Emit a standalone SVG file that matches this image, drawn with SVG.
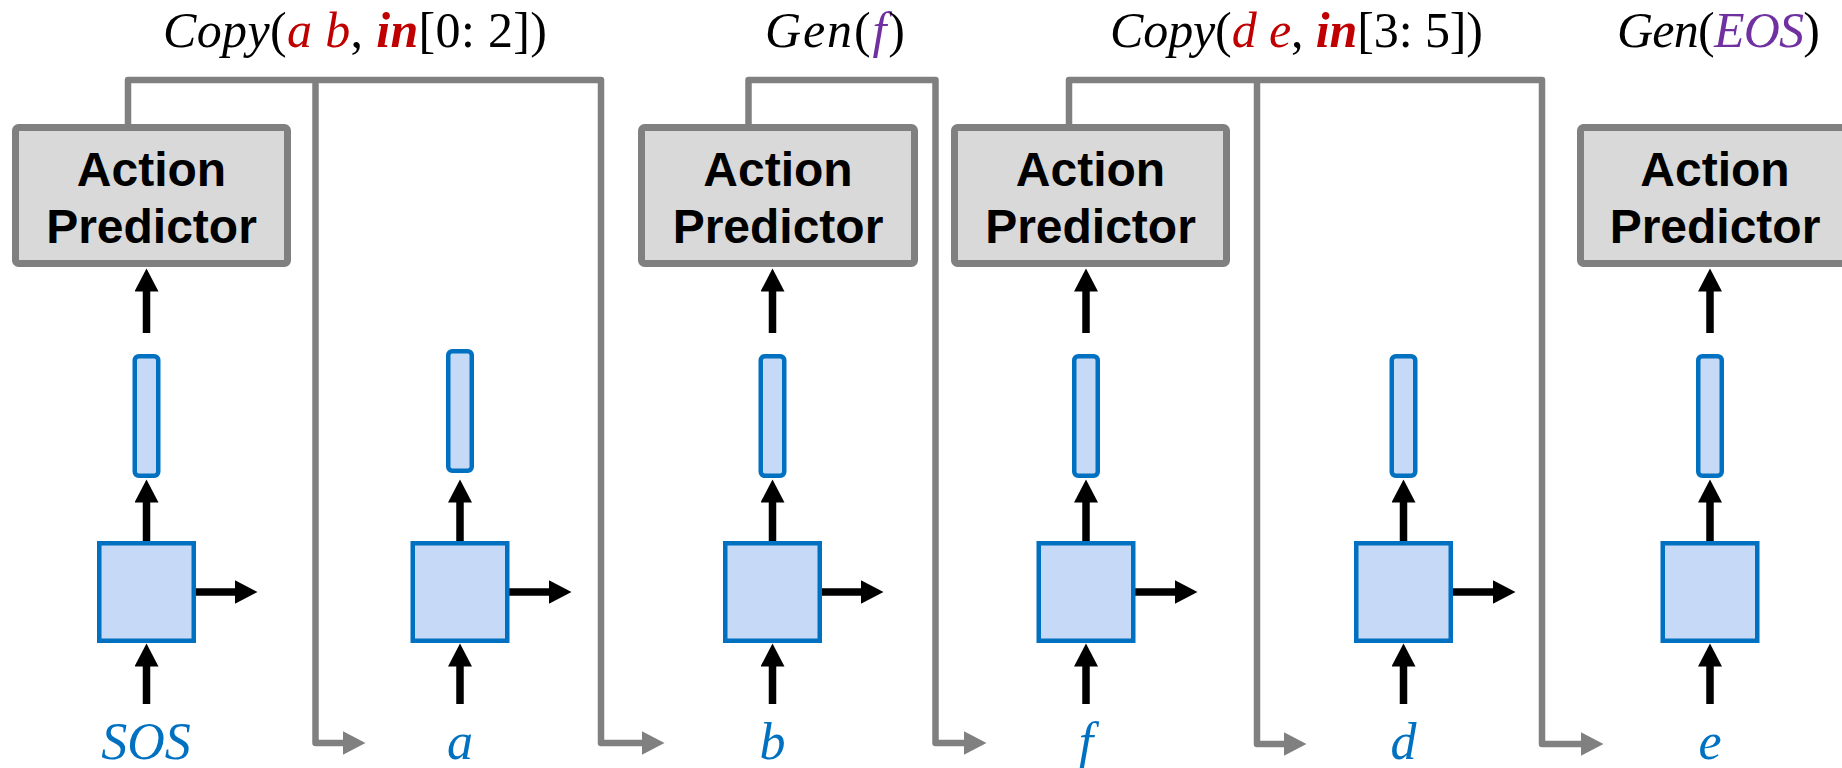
<svg xmlns="http://www.w3.org/2000/svg" width="1842" height="768" viewBox="0 0 1842 768">
<style>
.ap{fill:#d9d9d9;stroke:#808080;stroke-width:7}
.apt{font-family:"Liberation Sans",Arial,sans-serif;font-weight:bold;font-size:48px;fill:#000;text-anchor:middle}
.cell{fill:#c6d9f7;stroke:#0070c0;stroke-width:4.5}
.vec{fill:#c6d9f7;stroke:#0070c0;stroke-width:4.5}
.gl{fill:none;stroke:#808080;stroke-width:6.5;stroke-linejoin:round}
.bl{fill:none;stroke:#000;stroke-width:7.5}
.math{font-family:"Liberation Serif","Times New Roman",serif;font-size:50px;fill:#000}
.it{font-style:italic}
.red{fill:#c00000}
.pur{fill:#7030a0}
.bi{font-style:italic;font-weight:bold}
.tok{font-family:"Liberation Serif","Times New Roman",serif;font-size:52px;font-style:italic;fill:#0070c0;text-anchor:middle}
</style>
<defs>
<marker id="ga" markerUnits="userSpaceOnUse" markerWidth="24" markerHeight="24" viewBox="0 0 24 24" refX="0.5" refY="12" orient="auto">
<path d="M0,0 L23,12 L0,24 z" fill="#808080"/>
</marker>
<marker id="ba" markerUnits="userSpaceOnUse" markerWidth="24" markerHeight="24" viewBox="0 0 24 24" refX="0.5" refY="12" orient="auto">
<path d="M0,0 L23,12 L0,24 z" fill="#000"/>
</marker>
</defs>

<g id="connectors">
<path class="gl" d="M128,127 V80 H601 V743 H642" marker-end="url(#ga)"/>
<path class="gl" d="M315.5,80 V743 H343" marker-end="url(#ga)"/>
<path class="gl" d="M748.5,127 V80 H935.5 V743 H964" marker-end="url(#ga)"/>
<path class="gl" d="M1069,127 V80 H1542 V744 H1581" marker-end="url(#ga)"/>
<path class="gl" d="M1257,80 V744 H1284" marker-end="url(#ga)"/>

<path class="bl" d="M146.5,704 V666" marker-end="url(#ba)"/>
<path class="bl" d="M146.5,541 V502" marker-end="url(#ba)"/>
<path class="bl" d="M196,592 H235" marker-end="url(#ba)"/>
<path class="bl" d="M146.5,333 V291" marker-end="url(#ba)"/>

<path class="bl" d="M460,704 V666" marker-end="url(#ba)"/>
<path class="bl" d="M460,541 V502" marker-end="url(#ba)"/>
<path class="bl" d="M509,592 H549" marker-end="url(#ba)"/>

<path class="bl" d="M772.5,704 V666" marker-end="url(#ba)"/>
<path class="bl" d="M772.5,541 V502" marker-end="url(#ba)"/>
<path class="bl" d="M821,592 H861" marker-end="url(#ba)"/>
<path class="bl" d="M772.5,333 V291" marker-end="url(#ba)"/>

<path class="bl" d="M1086,704 V666" marker-end="url(#ba)"/>
<path class="bl" d="M1086,541 V502" marker-end="url(#ba)"/>
<path class="bl" d="M1135,592 H1175" marker-end="url(#ba)"/>
<path class="bl" d="M1086,333 V291" marker-end="url(#ba)"/>

<path class="bl" d="M1403.5,704 V666" marker-end="url(#ba)"/>
<path class="bl" d="M1403.5,541 V502" marker-end="url(#ba)"/>
<path class="bl" d="M1452,592 H1493" marker-end="url(#ba)"/>

<path class="bl" d="M1710,704 V666" marker-end="url(#ba)"/>
<path class="bl" d="M1710,541 V502" marker-end="url(#ba)"/>
<path class="bl" d="M1710,333 V291" marker-end="url(#ba)"/>
</g>

<g id="ap1">
<rect class="ap" x="15.5" y="127.5" width="272" height="136" rx="3"/>
<text class="apt" x="151.5" y="186">Action</text>
<text class="apt" x="151.5" y="243">Predictor</text>
</g>
<g id="ap2">
<rect class="ap" x="641.5" y="127.5" width="273" height="136" rx="3"/>
<text class="apt" x="778" y="186">Action</text>
<text class="apt" x="778" y="243">Predictor</text>
</g>
<g id="ap3">
<rect class="ap" x="954.5" y="127.5" width="272" height="136" rx="3"/>
<text class="apt" x="1090.5" y="186">Action</text>
<text class="apt" x="1090.5" y="243">Predictor</text>
</g>
<g id="ap4">
<rect class="ap" x="1580.5" y="127.5" width="272" height="136" rx="3"/>
<text class="apt" x="1715" y="186">Action</text>
<text class="apt" x="1715" y="243">Predictor</text>
</g>

<g id="label1">
<text class="math" x="163" y="47" textLength="384" lengthAdjust="spacing"><tspan class="it">Copy</tspan>(<tspan class="it red">a b</tspan>, <tspan class="bi red">in</tspan>[0: 2])</text>
</g>
<g id="label2">
<text class="math" x="765" y="47" textLength="140" lengthAdjust="spacing"><tspan class="it">Gen</tspan>(<tspan class="it pur">f</tspan>)</text>
</g>
<g id="label3">
<text class="math" x="1110" y="47" textLength="373" lengthAdjust="spacing"><tspan class="it">Copy</tspan>(<tspan class="it red">d e</tspan>, <tspan class="bi red">in</tspan>[3: 5])</text>
</g>
<g id="label4">
<text class="math" x="1617" y="47" textLength="203" lengthAdjust="spacing"><tspan class="it">Gen</tspan>(<tspan class="it pur">EOS</tspan>)</text>
</g>

<g id="col1">
<rect class="vec" x="134.75" y="356.25" width="23.5" height="119.5" rx="4"/>
<rect class="cell" x="99.25" y="543.25" width="94.5" height="97.5"/>
<text class="tok" x="146" y="759">SOS</text>
</g>
<g id="col2">
<rect class="vec" x="448.25" y="351.25" width="23.5" height="119.5" rx="4"/>
<rect class="cell" x="412.75" y="543.25" width="94.5" height="97.5"/>
<text class="tok" x="460" y="759">a</text>
</g>
<g id="col3">
<rect class="vec" x="760.75" y="356.25" width="23.5" height="119.5" rx="4"/>
<rect class="cell" x="725.25" y="543.25" width="94.5" height="97.5"/>
<text class="tok" x="772.5" y="759">b</text>
</g>
<g id="col4">
<rect class="vec" x="1074.25" y="356.25" width="23.5" height="119.5" rx="4"/>
<rect class="cell" x="1038.75" y="543.25" width="94.5" height="97.5"/>
<text class="tok" x="1086" y="759">f</text>
</g>
<g id="col5">
<rect class="vec" x="1391.75" y="356.25" width="23.5" height="119.5" rx="4"/>
<rect class="cell" x="1356.25" y="543.25" width="94.5" height="97.5"/>
<text class="tok" x="1403.5" y="759">d</text>
</g>
<g id="col6">
<rect class="vec" x="1698.25" y="356.25" width="23.5" height="119.5" rx="4"/>
<rect class="cell" x="1662.75" y="543.25" width="94.5" height="97.5"/>
<text class="tok" x="1710" y="759">e</text>
</g>
</svg>
